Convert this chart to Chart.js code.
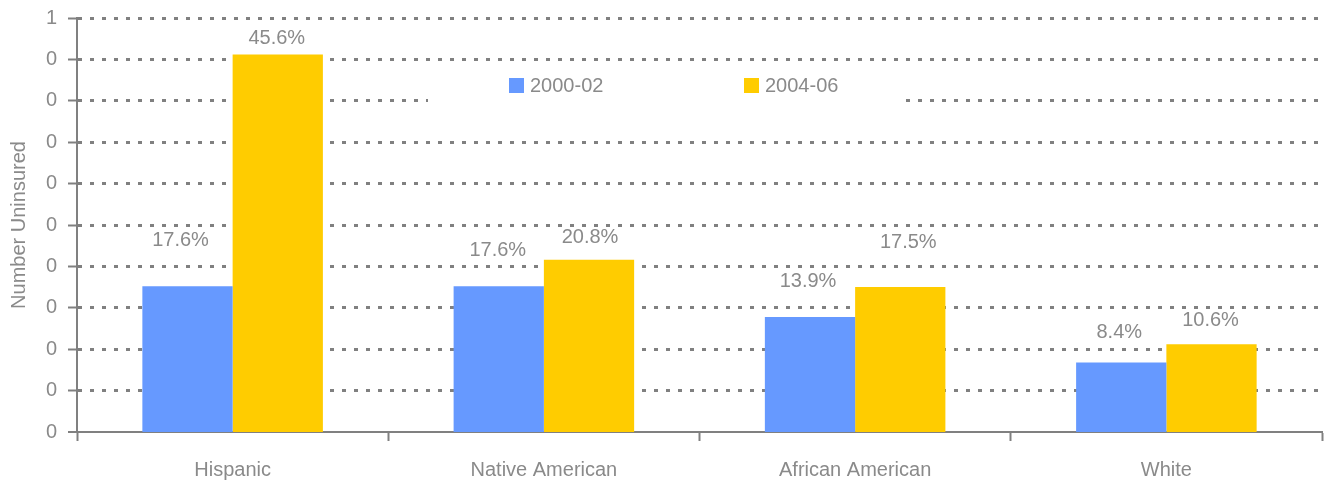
<!DOCTYPE html>
<html>
<head>
<meta charset="utf-8">
<title>Number Uninsured</title>
<script src="https://cdn.jsdelivr.net/npm/chart.js@4"></script>
<style>
  html, body { margin: 0; padding: 0; background: #ffffff; }
  #wrap { width: 1329px; height: 482px; position: relative; }
</style>
</head>
<body>
<div id="wrap"><canvas id="chart" width="1329" height="482"></canvas></div>
<script>
// Groups along the x axis
const categories = ['Hispanic', 'Native American', 'African American', 'White'];

// Share uninsured, by period
const seriesNames = ['2000-02', '2004-06'];
const uninsured2000 = [0.176, 0.176, 0.139, 0.084];
const uninsured2004 = [0.456, 0.208, 0.175, 0.106];

// Value axis: 0 to 0.5 in steps of 0.05, labels rounded to whole numbers
const yMin = 0;
const yMax = 0.5;
const yStep = 0.05;

// Small shifts of each value label from its bar top [dx, dy]
const labelShift = [
  [[-7, -46], [-1, -16]],
  [[-1, -36], [1, -22]],
  [[-2, -35], [8, -45]],
  [[-2, -30], [-1, -24]]
];

const BLUE = '#6699ff';
const YELLOW = '#ffcc00';
const GREY = '#8a8a8a';
const LINE = '#808080';
const FONT = "'Liberation Sans', Arial, sans-serif";

// Percent labels above bars
const valueLabels = {
  id: 'valueLabels',
  afterDatasetsDraw(chart) {
    const ctx = chart.ctx;
    ctx.save();
    ctx.font = '20px ' + FONT;
    ctx.fillStyle = GREY;
    ctx.textAlign = 'center';
    ctx.textBaseline = 'middle';
    chart.data.datasets.forEach((ds, di) => {
      chart.getDatasetMeta(di).data.forEach((bar, i) => {
        const s = labelShift[i][di];
        const txt = (ds.data[i] * 100).toFixed(1) + '%';
        ctx.fillText(txt, bar.x + s[0], bar.y + s[1]);
      });
    });
    ctx.restore();
  }
};

// Legend panel laid over the upper grid lines
const insetLegend = {
  id: 'insetLegend',
  afterDatasetsDraw(chart) {
    const ctx = chart.ctx;
    ctx.save();
    ctx.fillStyle = '#ffffff';
    ctx.fillRect(428, 68, 477, 48);
    ctx.font = '20px ' + FONT;
    ctx.textBaseline = 'middle';
    ctx.textAlign = 'left';
    const xs = [509, 744];
    chart.data.datasets.forEach((ds, di) => {
      ctx.fillStyle = ds.backgroundColor;
      ctx.fillRect(xs[di], 78, 15, 15);
      ctx.fillStyle = GREY;
      ctx.fillText(ds.label, xs[di] + 21, 86);
    });
    ctx.restore();
  }
};

new Chart(document.getElementById('chart'), {
  type: 'bar',
  data: {
    labels: categories,
    datasets: [
      { label: seriesNames[0], data: uninsured2000, backgroundColor: BLUE },
      { label: seriesNames[1], data: uninsured2004, backgroundColor: YELLOW }
    ]
  },
  options: {
    responsive: false,
    animation: false,
    devicePixelRatio: 1,
    layout: { padding: { left: 0, right: 7, top: 18, bottom: 0 } },
    datasets: { bar: { categoryPercentage: 0.58, barPercentage: 1.0 } },
    plugins: {
      legend: { display: false },
      tooltip: { enabled: false }
    },
    scales: {
      x: {
        grid: {
          offset: true,
          drawOnChartArea: false,
          drawTicks: true,
          tickLength: 9,
          tickColor: LINE,
          tickWidth: 2
        },
        border: { display: true, color: LINE, width: 2 },
        ticks: {
          color: GREY,
          font: { family: FONT, size: 20 },
          padding: 17
        },
        afterFit(scale) {
          scale.height = 50;
          scale.paddingLeft = 0;
          scale.paddingRight = 0;
        }
      },
      y: {
        min: yMin,
        max: yMax,
        title: {
          display: true,
          text: 'Number Uninsured',
          color: GREY,
          font: { family: FONT, size: 20 },
          padding: { top: 7, bottom: 0 }
        },
        grid: {
          color: LINE,
          lineWidth: (c) => (c.tick && c.tick.value === 0 ? 0 : 3),
          drawTicks: true,
          tickLength: 9,
          tickColor: LINE,
          tickWidth: 2,
          tickBorderDash: []
        },
        border: { display: true, color: LINE, width: 2, dash: [4, 8] },
        ticks: {
          stepSize: yStep,
          color: GREY,
          font: { family: FONT, size: 20 },
          padding: 11,
          callback: (v) => String(Math.round(v))
        },
        afterFit(scale) {
          scale.width = 77;
          scale.paddingTop = 0;
          scale.paddingBottom = 0;
        }
      }
    }
  },
  plugins: [valueLabels, insetLegend]
});
</script>
</body>
</html>
